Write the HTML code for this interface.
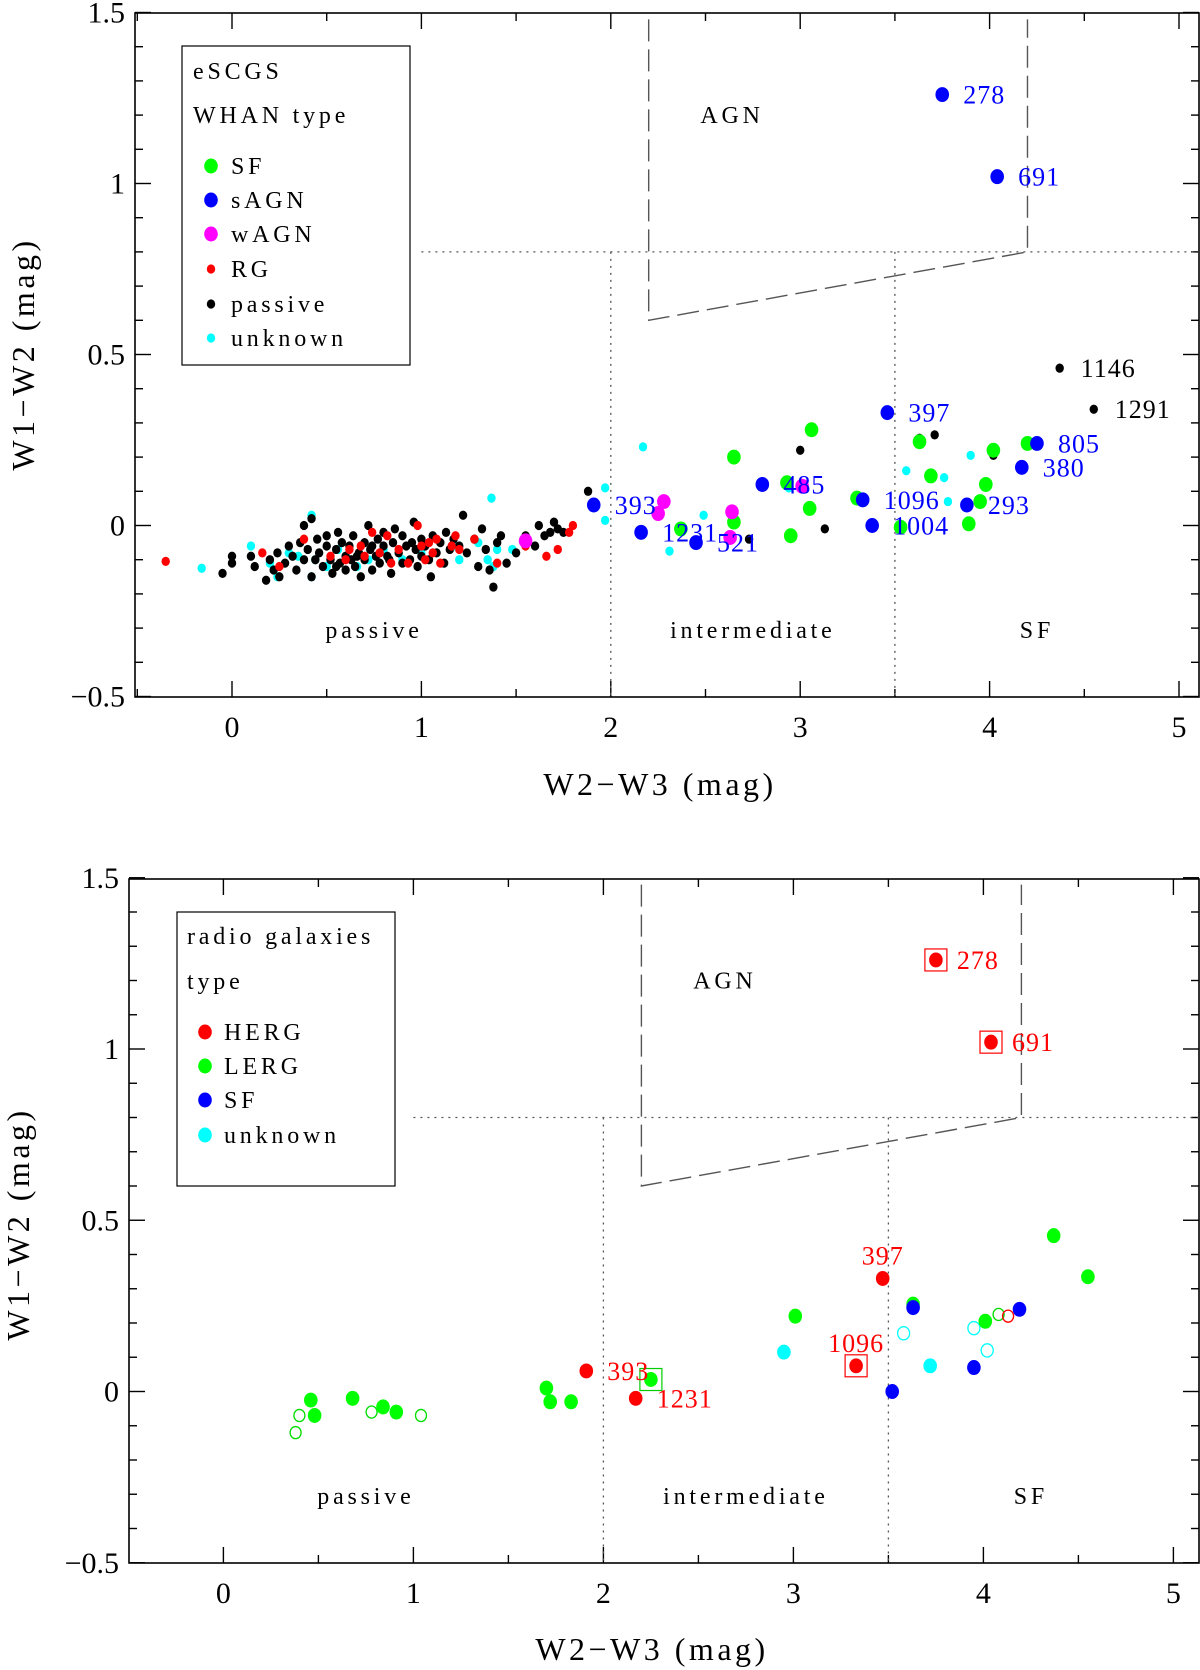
<!DOCTYPE html>
<html><head><meta charset="utf-8">
<style>
html,body{margin:0;padding:0;background:#fff;}
svg{display:block;font-family:"Liberation Serif","DejaVu Serif",serif;}
</style></head>
<body>
<svg id="fig" width="1200" height="1670" viewBox="0 0 1200 1670" xmlns="http://www.w3.org/2000/svg"></svg>
<script>
// ---------- Panel 1 data (WHAN type) ----------
const p1SF = [[2.65,0.2],[3.06,0.28],[3.63,0.245],[3.69,0.145],[3.98,0.12],[3.95,0.07],[3.89,0.005],[4.02,0.22],[4.2,0.24],[3.53,-0.005],[3.3,0.08],[3.05,0.05],[2.95,-0.03],[2.65,0.01],[2.93,0.125],[2.37,-0.01]];
const p1sAGN = [[3.75,1.26],[4.04,1.02],[3.46,0.33],[4.25,0.24],[4.17,0.17],[3.33,0.075],[3.88,0.06],[3.38,0.0],[1.91,0.06],[2.16,-0.02],[2.45,-0.05],[2.80,0.12]];
const p1wAGN = [[2.28,0.07],[2.25,0.035],[2.64,0.04],[2.63,-0.035],[3.01,0.115],[1.55,-0.045]];
const p1RG = [[-0.35,-0.105],[0.16,-0.08],[0.25,-0.12],[0.38,-0.04],[0.52,-0.09],[0.6,-0.1],[0.62,-0.07],[0.68,-0.06],[0.7,-0.09],[0.74,-0.02],[0.78,-0.08],[0.82,-0.03],[0.84,-0.11],[0.88,-0.07],[0.93,-0.11],[0.98,0.0],[1.0,-0.06],[1.02,-0.1],[1.04,-0.05],[1.06,-0.08],[1.08,-0.04],[1.1,-0.11],[1.16,-0.06],[1.2,-0.07],[1.18,-0.03],[1.28,-0.04],[1.4,-0.11],[1.55,-0.06],[1.66,-0.09],[1.72,-0.07],[1.78,-0.02],[1.8,0.0]];
const p1passive = [[0.1,-0.09],[0.12,-0.12],[0.18,-0.16],[0.22,-0.13],[0.24,-0.08],[0.25,-0.15],[0.28,-0.11],[0.3,-0.06],[0.32,-0.09],[0.34,-0.13],[0.36,-0.05],[0.38,-0.1],[0.38,0.0],[0.4,-0.07],[0.42,0.02],[0.42,-0.15],[0.44,-0.1],[0.45,-0.04],[0.46,-0.08],[0.48,-0.12],[0.5,-0.06],[0.5,-0.03],[0.52,-0.1],[0.53,-0.14],[0.55,-0.07],[0.56,-0.02],[0.57,-0.11],[0.58,-0.05],[0.6,-0.09],[0.6,-0.13],[0.62,-0.06],[0.63,-0.1],[0.64,-0.03],[0.65,-0.12],[0.67,-0.08],[0.68,-0.15],[0.7,-0.05],[0.7,-0.1],[0.72,0.0],[0.73,-0.07],[0.74,-0.13],[0.76,-0.09],[0.77,-0.04],[0.78,-0.11],[0.8,-0.06],[0.8,-0.02],[0.82,-0.09],[0.84,-0.14],[0.85,-0.05],[0.86,-0.01],[0.88,-0.08],[0.9,-0.11],[0.9,-0.03],[0.92,-0.06],[0.94,-0.1],[0.96,0.01],[0.97,-0.07],[0.98,-0.12],[1.0,-0.04],[1.0,-0.09],[1.02,-0.06],[1.04,-0.1],[1.05,-0.15],[1.06,-0.03],[1.08,-0.08],[1.1,-0.05],[1.12,-0.11],[1.13,-0.02],[1.15,-0.07],[1.17,-0.04],[1.2,-0.06],[1.22,0.03],[1.24,-0.08],[1.28,-0.04],[1.3,-0.12],[1.32,-0.01],[1.34,-0.07],[1.36,-0.13],[1.38,-0.18],[1.4,-0.05],[1.42,-0.03],[1.45,-0.11],[1.5,-0.08],[1.55,-0.03],[1.6,-0.06],[1.62,0.0],[1.65,-0.03],[1.68,-0.02],[1.7,0.01],[1.72,-0.01],[1.75,-0.02],[0.0,-0.11],[0.0,-0.09],[-0.05,-0.14],[0.2,-0.1],[0.55,-0.12],[0.66,-0.09],[0.74,-0.06],[0.83,-0.1],[0.95,-0.05],[1.88,0.1],[3.0,0.22],[3.13,-0.01],[3.63,0.255],[3.71,0.265],[4.02,0.205],[2.73,-0.04],[4.37,0.46],[4.55,0.34]];
const p1unknown = [[-0.16,-0.125],[0.1,-0.06],[0.2,-0.11],[0.24,-0.15],[0.3,-0.08],[0.42,0.03],[0.44,-0.1],[0.42,-0.15],[0.5,-0.12],[0.56,-0.07],[0.6,-0.09],[0.66,-0.12],[0.8,-0.07],[0.9,-0.1],[1.0,-0.08],[1.18,-0.06],[1.2,-0.1],[1.3,-0.05],[1.35,-0.1],[1.4,-0.07],[1.48,-0.07],[1.38,-0.12],[0.35,-0.09],[0.72,-0.1],[1.37,0.08],[2.17,0.23],[1.97,0.11],[1.97,0.015],[2.49,0.03],[2.31,-0.075],[3.56,0.16],[3.76,0.14],[3.9,0.205],[3.78,0.07],[2.94,0.11]];
const p1labels = [["278",3.75,1.26,"#0000ff"],["691",4.04,1.02,"#0000ff"],["397",3.46,0.33,"#0000ff"],["805",4.25,0.24,"#0000ff"],["380",4.17,0.17,"#0000ff"],["1096",3.33,0.075,"#0000ff"],["293",3.88,0.06,"#0000ff"],["1004",3.38,0.0,"#0000ff"],["393",1.91,0.06,"#0000ff"],["1231",2.16,-0.02,"#0000ff"],["521",2.45,-0.05,"#0000ff"],["485",2.80,0.12,"#0000ff"],["1146",4.37,0.46,"#000"],["1291",4.55,0.34,"#000"]];

// ---------- Panel 2 data (radio galaxies) ----------
const p2HERG = [[3.75,1.26],[4.04,1.02],[3.47,0.33],[3.33,0.075],[1.91,0.06],[2.17,-0.02]];
const p2HERGboxed = [[3.75,1.26],[4.04,1.02],[3.33,0.075]];
const p2HERGopen = [[4.13,0.22]];
const p2LERG = [[0.46,-0.025],[0.48,-0.07],[0.68,-0.02],[0.84,-0.045],[0.91,-0.06],[1.70,0.01],[1.72,-0.03],[1.83,-0.03],[2.25,0.035],[3.01,0.22],[3.63,0.255],[4.01,0.205],[4.37,0.455],[4.55,0.335]];
const p2LERGboxed = [[2.25,0.035]];
const p2LERGopen = [[0.40,-0.07],[0.38,-0.12],[0.78,-0.06],[1.04,-0.07],[4.08,0.225]];
const p2SF = [[3.63,0.245],[3.52,0.0],[3.95,0.07],[4.19,0.24]];
const p2unknown = [[2.95,0.115],[3.72,0.075]];
const p2unknownOpen = [[3.58,0.17],[3.95,0.185],[4.02,0.12]];
const p2labels = [["278",3.75,1.26,"r"],["691",4.04,1.02,"r"],["393",1.91,0.06,"r"],["1231",2.17,-0.02,"r"],["397",3.47,0.33,"a"],["1096",3.33,0.075,"a"]];

const xTicks = [0,1,2,3,4,5];
const yTicks = [-0.5,0,0.5,1,1.5];
const yTickLabels = ["\u22120.5","0","0.5","1","1.5"];

const NS = "http://www.w3.org/2000/svg";
const svg = document.getElementById('fig');
function mk(tag, attrs, parent){const e=document.createElementNS(NS,tag);for(const k in attrs)e.setAttribute(k,attrs[k]);(parent||svg).appendChild(e);return e;}

function panel(P, name){
  const g = mk('g',{});
  
  
  const X = v => P.x0 + v*P.kx;
  const Y = v => P.y0 - v*P.ky;
  const fr = mk('rect',{x:P.l,y:P.t,width:P.r-P.l,height:P.b-P.t,fill:'none',stroke:'#000','stroke-width':1.6},g);
  
  
  for(let v=-0.5; v<=5.05; v+=0.5){
    const px=X(v); if(px<P.l+1||px>P.r-1) continue;
    const major = Math.abs(v-Math.round(v))<1e-6;
    const L = major?16:8;
    mk('line',{x1:px,y1:P.b,x2:px,y2:P.b-L,stroke:'#000','stroke-width':1.4},g);
    mk('line',{x1:px,y1:P.t,x2:px,y2:P.t+L,stroke:'#000','stroke-width':1.4},g);
  }
  xTicks.forEach(v=>{
    const t=mk('text',{x:X(v),y:P.b+40,'text-anchor':'middle','font-size':30},g);
    t.textContent=String(v);
    
    
  });
  for(let i=-5;i<=15;i++){
    const v=i/10, py=Y(v);
    const major = i%5===0;
    const L = major?16:8;
    mk('line',{x1:P.l,y1:py,x2:P.l+L,y2:py,stroke:'#000','stroke-width':1.4},g);
    mk('line',{x1:P.r,y1:py,x2:P.r-L,y2:py,stroke:'#000','stroke-width':1.4},g);
  }
  yTicks.forEach((v,i)=>{
    const t=mk('text',{x:P.l-10,y:Y(v)+10,'text-anchor':'end','font-size':30},g);
    t.textContent=yTickLabels[i];
    
    
  });
  const xt=mk('text',{x:P.xtx,y:P.xty,'text-anchor':'middle','font-size':32,'letter-spacing':3.5},g);
  xt.textContent='W2\u2212W3  (mag)';
  
  
  const yt=mk('text',{x:0,y:0,'text-anchor':'middle','font-size':32,'letter-spacing':3.5,transform:`translate(${P.ytx},${P.yty}) rotate(-90)`},g);
  yt.textContent='W1\u2212W2  (mag)';
  
  
  const dot={stroke:'#555','stroke-width':1.3,'stroke-dasharray':'2 5',fill:'none'};
  mk('line',Object.assign({x1:X(1.0),y1:Y(0.8),x2:P.r,y2:Y(0.8)},dot),g);
  mk('line',Object.assign({x1:X(2),y1:Y(0.8),x2:X(2),y2:P.b},dot),g);
  mk('line',Object.assign({x1:X(3.5),y1:Y(0.8),x2:X(3.5),y2:P.b},dot),g);
  const dl=mk('polyline',{points:`${X(2.2)},${Y(1.48)} ${X(2.2)},${Y(0.6)} ${X(4.2)},${Y(0.8)} ${X(4.2)},${Y(1.48)}`,fill:'none',stroke:'#555','stroke-width':1.4,'stroke-dasharray':'22 8'},g);
  
  
  [['passive',0.75,-0.305],['intermediate',2.75,-0.305],['SF',4.25,-0.305],['AGN',2.64,1.2]].forEach(a=>{
    const t=mk('text',{x:X(a[1]),y:Y(a[2])+8,'text-anchor':'middle','font-size':24,'letter-spacing':3.8},g);
    t.textContent=a[0];
    
    
  });
  return {g,X,Y};
}

function dots(ctx, arr, color, r, name, open){
  arr.forEach(d=>{
    const c=mk('ellipse',{cx:ctx.X(d[0]),cy:ctx.Y(d[1]),rx:r,ry:r*1.1,fill:open?'none':color,stroke:open?color:'none','stroke-width':1.3},ctx.g);
    
    
  });
}
function boxes(ctx, arr, color){
  arr.forEach(d=>{
    const b=mk('rect',{x:ctx.X(d[0])-11,y:ctx.Y(d[1])-11,width:22,height:22,fill:'none',stroke:color,'stroke-width':1.2},ctx.g);
    
    
  });
}
function legend(ctx, box, title, entries){
  const r=mk('rect',{x:box[0],y:box[1],width:box[2],height:box[3],fill:'#fff',stroke:'#000','stroke-width':1.2},ctx.g);
  
  
  title.forEach(t=>{
    const e=mk('text',{x:t[1],y:t[2]+8,'font-size':24,'letter-spacing':3.8},ctx.g);
    e.textContent=t[0];
    
    
  });
  entries.forEach(en=>{
    const c=mk('ellipse',{cx:en.mx,cy:en.y,rx:en.r,ry:en.r*1.1,fill:en.c},ctx.g);
    
    
    const t=mk('text',{x:en.tx,y:en.y+8,'font-size':24,'letter-spacing':3.8},ctx.g);
    t.textContent=en.label;
    
    
  });
}

// Panel 1
const P1={l:135,r:1199,t:13,b:697,x0:232,kx:189.4,y0:525.5,ky:342,xtx:660,xty:795,ytx:34,yty:354};
const c1=panel(P1,'whan-panel');
dots(c1,p1unknown,'#00ffff',4.2,'point-unknown');
dots(c1,p1passive,'#000',4.2,'point-passive');
dots(c1,p1RG,'#ff0000',4.2,'point-rg');
dots(c1,p1SF,'#00ff00',6.8,'point-sf');
dots(c1,p1wAGN,'#ff00ff',6.8,'point-wagn');
dots(c1,p1sAGN,'#0000ff',6.8,'point-sagn');
p1labels.forEach(a=>{
  const t=mk('text',{x:c1.X(a[1])+21,y:c1.Y(a[2])+9,'font-size':26,fill:a[3],'letter-spacing':1},c1.g);
  t.textContent=a[0];
  
  
});
legend(c1,[182,46,228,319],[['eSCGS',193,71],['WHAN type',193,115]],[
  {label:'SF',c:'#00ff00',r:6.8,mx:211,tx:231,y:166},
  {label:'sAGN',c:'#0000ff',r:6.8,mx:211,tx:231,y:200},
  {label:'wAGN',c:'#ff00ff',r:6.8,mx:211,tx:231,y:234},
  {label:'RG',c:'#ff0000',r:4.2,mx:211,tx:231,y:269},
  {label:'passive',c:'#000',r:4.2,mx:211,tx:231,y:304},
  {label:'unknown',c:'#00ffff',r:4.2,mx:211,tx:231,y:338}]);

// Panel 2
const P2={l:129,r:1199,t:879,b:1563,x0:223.4,kx:190,y0:1391.5,ky:342.5,xtx:652,xty:1660,ytx:29,yty:1224};
const c2=panel(P2,'radio-panel');
dots(c2,p2LERGopen,'#00dd00',5.5,'point-lerg-open',true);
dots(c2,p2HERGopen,'#ff0000',5.5,'point-herg-open',true);
dots(c2,p2unknownOpen,'#00ffff',6,'point-unknown-open',true);
dots(c2,p2LERG,'#00ff00',6.8,'point-lerg');
dots(c2,p2unknown,'#00ffff',6.8,'point-unknown');
dots(c2,p2SF,'#0000ff',6.8,'point-sf');
dots(c2,p2HERG,'#ff0000',6.8,'point-herg');
boxes(c2,p2HERGboxed,'#ff0000');
boxes(c2,p2LERGboxed,'#00cc00');
p2labels.forEach(a=>{
  const above=a[3]==='a';
  const t=mk('text',{x:above?c2.X(a[1]):c2.X(a[1])+21,y:above?c2.Y(a[2])-14:c2.Y(a[2])+9,'font-size':26,fill:'#ff0000','text-anchor':above?'middle':'start','letter-spacing':1},c2.g);
  t.textContent=a[0];
  
  
});
legend(c2,[177,912,218,274],[['radio galaxies',187,936],['type',187,981]],[
  {label:'HERG',c:'#ff0000',r:6.8,mx:205,tx:224,y:1032},
  {label:'LERG',c:'#00ff00',r:6.8,mx:205,tx:224,y:1066},
  {label:'SF',c:'#0000ff',r:6.8,mx:205,tx:224,y:1100},
  {label:'unknown',c:'#00ffff',r:6.8,mx:205,tx:224,y:1135}]);
</script>
</body></html>
